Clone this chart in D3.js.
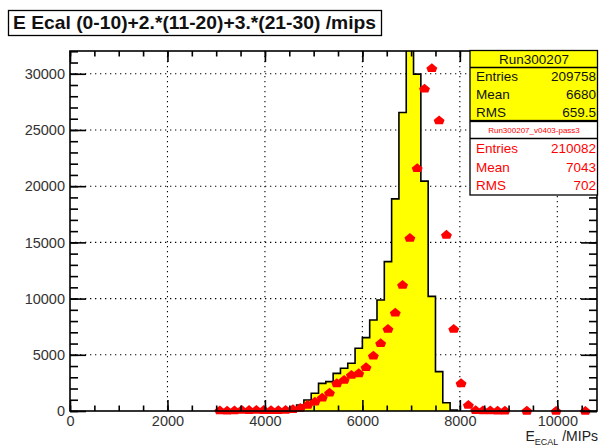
<!DOCTYPE html>
<html>
<head>
<meta charset="utf-8">
<script src="https://cdn.jsdelivr.net/npm/d3@7"></script>
<style>
body { margin: 0; background: #fff; }
svg { display: block; font-family: "Liberation Sans", Arial, sans-serif; }
</style>
</head>
<body>
<div id="chart"></div>
<script>
const width = 600;
const height = 447;

// both histograms use 150 MIPs bins
const binWidth = 150;
const xMax = 10800;
const yMax = 32025;

// yellow histogram (Run300207), first bin starts at 3900
const dataStart = 3900;
const dataCounts = [20, 40, 80, 150, 250, 530, 980, 1575, 2460, 2610, 3350, 3800, 4245,
    5580, 6525, 8100, 9880, 13290, 18870, 26560, 34000, 29970, 20450, 10200, 3500, 740, 90];

// red points (Run300207_v0403-pass3), first bin starts at 3000, empty bins not drawn
const simStart = 3000;
const simCounts = [40, 30, 40, 90, 80, 90, 80, 60, 70, 90, 150, 270, 530, 830, 1185, 1630,
    2460, 2760, 3200, 3350, 3890, 4925, 6025, 7300, 8750, 11220, 15400, 21600, 28660, 30500,
    25840, 15670, 7300, 2460, 530, 60, 40, 40, 30, 30, 0, 0, 15, 0, 0, 0, 10, 0, 0, 0, 10];

const xTicks = [0, 2000, 4000, 6000, 8000, 10000];
const xMinor = d3.range(0, xMax + 1, 500);
const yTicks = [0, 5000, 10000, 15000, 20000, 25000, 30000];
const yMinor = d3.range(0, yMax, 1000);

const titleText = "E Ecal (0-10)+2.*(11-20)+3.*(21-30) /mips";
const statNames = ["Entries", "Mean", "RMS"];
const dataName = "Run300207";
const dataStats = ["209758", "6680", "659.5"];
const simName = "Run300207_v0403-pass3";
const simStats = ["210082", "7043", "702"];

const frame = {left: 70, right: 597, top: 51, bottom: 411};

const svg = d3.select("#chart").append("svg")
    .attr("width", width)
    .attr("height", height);

const x = d3.scaleLinear().domain([0, xMax]).range([frame.left, frame.left + 487.3 * xMax / 10000]);
const y = d3.scaleLinear().domain([0, yMax]).range([frame.bottom, frame.top]);

svg.append("clipPath").attr("id", "frame-clip")
  .append("rect")
    .attr("x", frame.left).attr("y", frame.top)
    .attr("width", frame.right - frame.left)
    .attr("height", frame.bottom - frame.top);

// dotted grid
const grid = svg.append("g").attr("stroke", "#000").attr("stroke-width", 1.1)
    .attr("stroke-dasharray", "1.3,3.7");
grid.selectAll(".vg").data(xTicks.slice(1)).join("line")
    .attr("x1", d => x(d)).attr("x2", d => x(d))
    .attr("y1", frame.top).attr("y2", frame.bottom);
grid.selectAll(".hg").data(yTicks.slice(1)).join("line")
    .attr("x1", frame.left).attr("x2", frame.right)
    .attr("y1", d => y(d)).attr("y2", d => y(d));

// yellow histogram as a step outline
const steps = [[dataStart, 0]];
dataCounts.forEach((v, i) => {
    const lo = dataStart + i * binWidth;
    steps.push([lo, v], [lo + binWidth, v]);
});
steps.push([dataStart + dataCounts.length * binWidth, 0]);

const line = d3.line().x(d => x(d[0])).y(d => y(d[1]));
svg.append("path")
    .attr("clip-path", "url(#frame-clip)")
    .attr("d", line(steps))
    .attr("fill", "#ffff00")
    .attr("stroke", "#000")
    .attr("stroke-width", 1.6);

// red markers
const house = {
    draw(ctx, size) {
        const r = Math.sqrt(size) / 2;
        ctx.moveTo(0, -r * 1.05);
        ctx.lineTo(r * 1.15, -r * 0.1);
        ctx.lineTo(r * 0.8, r * 0.8);
        ctx.lineTo(-r * 0.8, r * 0.8);
        ctx.lineTo(-r * 1.15, -r * 0.1);
        ctx.closePath();
    }
};
const simPoints = simCounts
    .map((v, i) => ({c: simStart + (i + 0.5) * binWidth, v: v}))
    .filter(d => d.v > 0);
svg.append("g").selectAll("path").data(simPoints).join("path")
    .attr("transform", d => `translate(${x(d.c)},${y(d.v)})`)
    .attr("d", d3.symbol().type(house).size(90))
    .attr("fill", "#ff0000");

// axes, ticks pointing inwards like ROOT
function styleAxis(g) {
    g.select(".domain").remove();
    g.selectAll(".tick line").attr("stroke", "#000").attr("stroke-width", 1.6);
    g.selectAll("text").attr("fill", "#333").style("font-size", "14.5px")
        .style("font-family", "'Liberation Sans', Arial, sans-serif");
}
svg.append("g").attr("transform", `translate(0,${frame.bottom})`)
    .call(d3.axisBottom(x).tickValues(xMinor).tickSize(-5.5).tickFormat(""))
    .call(styleAxis);
svg.append("g").attr("transform", `translate(0,${frame.bottom})`)
    .call(d3.axisBottom(x).tickValues(xTicks).tickSize(-11).tickPadding(5).tickFormat(d3.format("d")))
    .call(styleAxis);
svg.append("g").attr("transform", `translate(0,${frame.top})`)
    .call(d3.axisTop(x).tickValues(xMinor).tickSize(-5.5).tickFormat(""))
    .call(styleAxis);
svg.append("g").attr("transform", `translate(0,${frame.top})`)
    .call(d3.axisTop(x).tickValues(xTicks).tickSize(-11).tickFormat(""))
    .call(styleAxis);
svg.append("g").attr("transform", `translate(${frame.left},0)`)
    .call(d3.axisLeft(y).tickValues(yMinor).tickSize(-8).tickFormat(""))
    .call(styleAxis);
svg.append("g").attr("transform", `translate(${frame.left},0)`)
    .call(d3.axisLeft(y).tickValues(yTicks).tickSize(-16).tickPadding(5).tickFormat(d3.format("d")))
    .call(styleAxis);
svg.append("g").attr("transform", `translate(${frame.right},0)`)
    .call(d3.axisRight(y).tickValues(yMinor).tickSize(-8).tickFormat(""))
    .call(styleAxis);
svg.append("g").attr("transform", `translate(${frame.right},0)`)
    .call(d3.axisRight(y).tickValues(yTicks).tickSize(-16).tickFormat(""))
    .call(styleAxis);

// frame
svg.append("rect")
    .attr("x", frame.left).attr("y", frame.top)
    .attr("width", frame.right - frame.left)
    .attr("height", frame.bottom - frame.top)
    .attr("fill", "none").attr("stroke", "#000").attr("stroke-width", 1.6);

// x axis title
const xTitle = svg.append("text")
    .attr("x", 598).attr("y", 441)
    .attr("text-anchor", "end")
    .attr("fill", "#222")
    .style("font-size", "14px");
xTitle.append("tspan").text("E");
xTitle.append("tspan").attr("dy", 3.5).style("font-size", "9px").text("ECAL");
xTitle.append("tspan").attr("dy", -3.5).text(" /MIPs");

// title box
svg.append("rect")
    .attr("x", 8.5).attr("y", 10.5).attr("width", 373).attr("height", 25)
    .attr("fill", "#fff").attr("stroke", "#000").attr("stroke-width", 1.3);
svg.append("text")
    .attr("x", 13).attr("y", 29)
    .attr("fill", "#111")
    .style("font-size", "18.5px")
    .style("font-weight", "bold")
    .attr("textLength", 363)
    .attr("lengthAdjust", "spacingAndGlyphs")
    .text(titleText);

// stats boxes
function statsBox(top, h, headH, fill, color, name, nameSize, values) {
    const g = svg.append("g");
    g.append("rect")
        .attr("x", 470).attr("y", top).attr("width", 127.5).attr("height", h)
        .attr("fill", fill).attr("stroke", "#000").attr("stroke-width", 1.3);
    g.append("line")
        .attr("x1", 470).attr("x2", 597.5)
        .attr("y1", top + headH).attr("y2", top + headH)
        .attr("stroke", "#000").attr("stroke-width", 1.3);
    g.append("text")
        .attr("x", 534).attr("y", top + headH / 2)
        .attr("dy", "0.36em")
        .attr("text-anchor", "middle")
        .attr("fill", color)
        .style("font-size", nameSize)
        .text(name);
    const rowH = (h - headH) / statNames.length;
    statNames.forEach((n, i) => {
        const cy = top + headH + rowH * (i + 0.5);
        g.append("text").attr("x", 476).attr("y", cy).attr("dy", "0.36em")
            .attr("fill", color).style("font-size", "13.5px").text(n);
        g.append("text").attr("x", 596).attr("y", cy).attr("dy", "0.36em")
            .attr("text-anchor", "end")
            .attr("fill", color).style("font-size", "13.5px").text(values[i]);
    });
}
statsBox(50.5, 70, 17, "#ffff00", "#111", dataName, "13.5px", dataStats);
statsBox(121.5, 73.5, 17, "#fff", "#ff0000", simName, "8px", simStats);
</script>
</body>
</html>
